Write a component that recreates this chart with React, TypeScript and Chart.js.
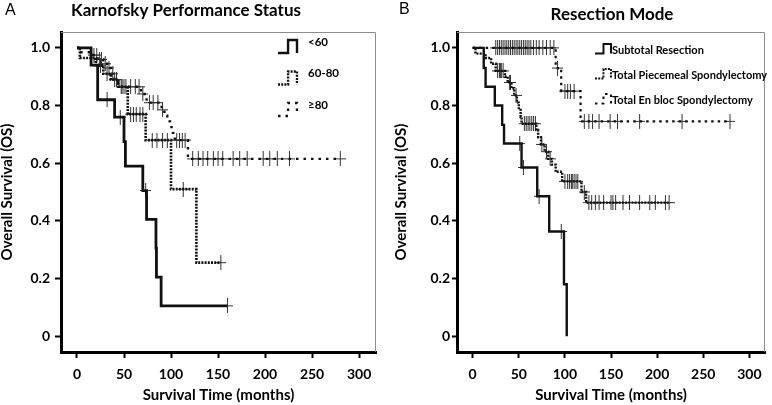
import React, { useEffect, useRef } from "react";
import { Chart, registerables } from "chart.js";

Chart.register(...registerables);

// ---------- shared axis ticks ----------
const xTickValues = [0, 50, 100, 150, 200, 250, 300];
const yTickValues = [0, 0.2, 0.4, 0.6, 0.8, 1.0];

// ---------- Panel A: Karnofsky Performance Status ----------
const kpsLt60Time = [0, 15, 22, 40, 50, 51.5, 70, 74, 84, 84.5, 89.5, 160];
const kpsLt60Surv = [1.0, 0.94, 0.82, 0.76, 0.675, 0.59, 0.505, 0.405, 0.305, 0.205, 0.105, 0.105];
const kpsLt60Censor = [32, 46, 73, 160];

const kps6080Time = [0, 3, 20, 28, 36, 44, 54, 73, 100, 127, 153];
const kps6080Surv = [1.0, 0.965, 0.94, 0.91, 0.89, 0.865, 0.77, 0.68, 0.51, 0.255, 0.255];
const kps6080Censor = [25, 32, 40, 47, 50, 57, 60, 63, 67, 70, 80, 85, 91, 96, 113, 153];

const kpsGe80Time = [0, 3, 15, 22, 28, 32, 36, 40, 44, 68, 74, 90, 93, 96, 99, 102, 104, 118, 280];
const kpsGe80Surv = [1.0, 0.985, 0.975, 0.96, 0.945, 0.93, 0.91, 0.89, 0.865, 0.84, 0.81, 0.785, 0.765, 0.745, 0.725, 0.705, 0.68, 0.615, 0.615];
const kpsGe80Censor = [18, 21, 24, 26, 30, 34, 38, 42, 48, 52, 57, 62, 66, 70, 77, 81, 86, 91, 106, 109, 112, 115, 123, 129, 134, 139, 145, 150, 155, 166, 173, 181, 198, 205, 213, 226, 280];

// ---------- Panel B: Resection Mode ----------
const subtotalTime = [0, 12, 14, 24, 32, 34, 53, 70, 83, 99, 102];
const subtotalSurv = [1.0, 0.93, 0.865, 0.8, 0.733, 0.668, 0.585, 0.485, 0.363, 0.18, 0];
const subtotalCensor = [51, 55, 72, 96];

const piecemealTime = [0, 3, 14, 20, 25, 35, 38, 42, 45, 48, 50, 52, 53, 69, 71, 74, 78, 82, 86, 90, 97, 118, 123, 213];
const piecemealSurv = [1.0, 0.98, 0.965, 0.945, 0.92, 0.9, 0.88, 0.86, 0.835, 0.81, 0.785, 0.76, 0.737, 0.715, 0.69, 0.665, 0.64, 0.615, 0.595, 0.57, 0.537, 0.5, 0.463, 0.463];
const piecemealCensor = [27, 29, 30, 31, 33, 40, 41, 47, 56, 58, 60, 62, 64, 66, 68, 75, 80, 84, 100, 103, 105, 107, 108, 110, 112, 114, 121, 126, 129, 133, 137, 142, 150, 152, 155, 163, 170, 181, 192, 198, 209, 213];

const enblocTime = [0, 90, 96, 117, 279];
const enblocSurv = [1.0, 0.93, 0.85, 0.745, 0.745];
const enblocCensor = [25, 27, 29, 31, 33, 35, 37, 39, 41, 43, 45, 47, 49, 51, 53, 55, 57, 59, 61, 63, 66, 69, 72, 76, 80, 84, 88, 92, 100, 103, 106, 110, 121, 126, 130, 137, 149, 157, 181, 227, 279];

// ---------- helpers ----------
type Series = {
  label: string;
  time: number[];
  surv: number[];
  censor: number[];
  dash: number[];
  width: number;
};

function survAt(time: number[], surv: number[], t: number) {
  let v = surv[0];
  for (let i = 0; i < time.length; i++) if (time[i] <= t) v = surv[i];
  return v;
}

function makeCross(w: number, h: number, color: string) {
  const c = document.createElement("canvas");
  c.width = w;
  c.height = h;
  const ctx = c.getContext("2d")!;
  ctx.strokeStyle = color;
  ctx.lineWidth = 1;
  ctx.beginPath();
  ctx.moveTo(w / 2, 0);
  ctx.lineTo(w / 2, h);
  ctx.moveTo(0, h / 2);
  ctx.lineTo(w, h / 2);
  ctx.stroke();
  return c;
}

type PanelCfg = {
  letter: string;
  title: string;
  titleX: number;
  titleY: number;
  letterX: number;
  letterY: number;
  series: Series[];
  xMin: number;
  xMax: number;
  yAxisWidth: number;
  padRight: number;
  yTitlePad: number;
  yTickPad: number;
  yTickLen: number;
  legend: { x: number; top: number; gap: number; gw: number; gh: number; textX: number; textDy: number; font: string; lw: number };
};

const LINE = "#111";
const FONT = "Lato";

const panelA: PanelCfg = {
  letter: "A",
  title: "Karnofsky Performance Status",
  titleX: 186,
  titleY: 11,
  letterX: 5,
  letterY: 11,
  xMin: -17,
  xMax: 318,
  yAxisWidth: 61,
  padRight: 10,
  yTitlePad: 0,
  yTickPad: 5,
  yTickLen: 6,
  series: [
    { label: "<60", time: kpsLt60Time, surv: kpsLt60Surv, censor: kpsLt60Censor, dash: [], width: 2.8 },
    { label: "60-80", time: kps6080Time, surv: kps6080Surv, censor: kps6080Censor, dash: [2, 1.2], width: 2.6 },
    { label: "≥80", time: kpsGe80Time, surv: kpsGe80Surv, censor: kpsGe80Censor, dash: [2.5, 5], width: 2.4 },
  ],
  legend: { x: 278, top: 40, gap: 31.5, gw: 19, gh: 13, textX: 308, textDy: 2, font: `bold 11.5px ${FONT}`, lw: 2.4 },
};

const panelB: PanelCfg = {
  letter: "B",
  title: "Resection Mode",
  titleX: 226,
  titleY: 15,
  letterX: 13,
  letterY: 10,
  xMin: -17,
  xMax: 317,
  yAxisWidth: 71,
  padRight: 3,
  yTitlePad: 7.5,
  yTickPad: 2,
  yTickLen: 5,
  series: [
    { label: "Subtotal Resection", time: subtotalTime, surv: subtotalSurv, censor: subtotalCensor, dash: [], width: 2.4 },
    { label: "Total Piecemeal Spondylectomy", time: piecemealTime, surv: piecemealSurv, censor: piecemealCensor, dash: [2, 1.2], width: 2.4 },
    { label: "Total En bloc Spondylectomy", time: enblocTime, surv: enblocSurv, censor: enblocCensor, dash: [2.5, 4], width: 2.2 },
  ],
  legend: { x: 209, top: 44, gap: 25, gw: 16, gh: 9.5, textX: 226, textDy: 6, font: `bold 11px ${FONT}`, lw: 2 },
};

const decorPlugin = {
  id: "decor",
  beforeDatasetsDraw(chart: any) {
    const { ctx, chartArea: a } = chart;
    ctx.save();
    ctx.strokeStyle = "#8c8c8c";
    ctx.lineWidth = 1;
    ctx.beginPath();
    ctx.moveTo(a.left, a.top + 0.5);
    ctx.lineTo(a.right - 0.5, a.top + 0.5);
    ctx.lineTo(a.right - 0.5, a.bottom);
    ctx.stroke();
    ctx.restore();
  },
  afterDraw(chart: any, _args: any, opts: any) {
    const cfg: PanelCfg = opts.cfg;
    if (!cfg) return;
    const { ctx } = chart;
    ctx.save();
    ctx.fillStyle = "#000";
    ctx.textBaseline = "middle";
    ctx.textAlign = "center";
    ctx.font = `bold 17px ${FONT}`;
    ctx.fillText(cfg.title, cfg.titleX, cfg.titleY);
    ctx.textAlign = "left";
    ctx.font = `16px "Liberation Sans"`;
    ctx.fillText(cfg.letter, cfg.letterX, cfg.letterY);

    const L = cfg.legend;
    cfg.series.forEach((s, i) => {
      const top = L.top + i * L.gap;
      const bottom = top + L.gh;
      const mid = L.x + L.gw * 0.53;
      ctx.strokeStyle = LINE;
      ctx.lineWidth = L.lw;
      ctx.setLineDash(s.dash);
      ctx.beginPath();
      ctx.moveTo(L.x, bottom);
      ctx.lineTo(mid, bottom);
      ctx.lineTo(mid, top);
      ctx.lineTo(L.x + L.gw, top);
      ctx.lineTo(L.x + L.gw, bottom);
      ctx.stroke();
      ctx.setLineDash([]);
      ctx.font = L.font;
      ctx.fillStyle = "#000";
      ctx.fillText(s.label, L.textX, top + L.textDy);
    });
    ctx.restore();
  },
};

function Panel({ cfg, left }: { cfg: PanelCfg; left: number }) {
  const ref = useRef<HTMLCanvasElement | null>(null);
  useEffect(() => {
    if (!ref.current) return;
    const cross = makeCross(11, 15, "#333");
    const datasets: any[] = [];
    cfg.series.forEach((s) => {
      datasets.push({
        label: s.label,
        data: s.time.map((t, i) => ({ x: t, y: s.surv[i] })),
        borderColor: LINE,
        borderWidth: s.width,
        borderDash: s.dash,
        stepped: "before",
        pointRadius: 0,
        fill: false,
      });
      datasets.push({
        label: s.label + " censored",
        data: s.censor.map((t) => ({ x: t, y: survAt(s.time, s.surv, t) })),
        showLine: false,
        pointStyle: cross,
        pointRadius: 6,
        borderColor: "#333",
      });
    });
    const tickFont = { family: FONT, weight: "bold" as const, size: 14 };
    const titleFont = { family: FONT, weight: "bold" as const, size: 15, lineHeight: 1 };
    const chart = new Chart(ref.current, {
      type: "line",
      data: { datasets },
      plugins: [decorPlugin],
      options: {
        animation: false,
        responsive: false,
        devicePixelRatio: 1,
        layout: { padding: { left: 0, top: 32, right: cfg.padRight, bottom: 0 } },
        plugins: {
          legend: { display: false },
          tooltip: { enabled: false },
          decor: { cfg },
        } as any,
        scales: {
          x: {
            type: "linear",
            min: cfg.xMin,
            max: cfg.xMax,
            afterFit: (s: any) => {
              s.height = 53;
            },
            afterBuildTicks: (s: any) => {
              s.ticks = xTickValues.map((v) => ({ value: v }));
            },
            grid: { display: true, drawOnChartArea: false, drawTicks: true, tickLength: 6, tickWidth: 2, tickColor: "#000" },
            border: { display: true, color: "#000", width: 3 },
            ticks: { color: "#000", font: tickFont, padding: 8, maxRotation: 0, autoSkip: false },
            title: { display: true, text: "Survival Time (months)", color: "#000", font: titleFont, padding: { top: 0, bottom: 2 } },
          },
          y: {
            type: "linear",
            min: -0.055,
            max: 1.055,
            afterFit: (s: any) => {
              s.width = cfg.yAxisWidth;
            },
            afterBuildTicks: (s: any) => {
              s.ticks = yTickValues.map((v) => ({ value: v }));
            },
            grid: { display: true, drawOnChartArea: false, drawTicks: true, tickLength: cfg.yTickLen, tickWidth: 2, tickColor: "#000" },
            border: { display: true, color: "#000", width: 3 },
            ticks: {
              color: "#000",
              font: tickFont,
              padding: cfg.yTickPad,
              autoSkip: false,
              callback: (v: any) => (Number(v) === 0 ? "0" : Number(v).toFixed(1)),
            },
            title: { display: true, text: "Overall Survival (OS)", color: "#000", font: titleFont, padding: { top: cfg.yTitlePad, bottom: 0 } },
          },
        },
      } as any,
    });
    return () => chart.destroy();
  }, [cfg]);
  return (
    <canvas
      ref={ref}
      width={386}
      height={405}
      style={{ position: "absolute", left, top: 0, width: 386, height: 405, display: "block" }}
    />
  );
}

export default function App() {
  return (
    <div style={{ position: "fixed", left: 0, top: 0, width: 772, height: 405, background: "#fff", overflow: "hidden" }}>
      <Panel cfg={panelA} left={0} />
      <Panel cfg={panelB} left={386} />
    </div>
  );
}
